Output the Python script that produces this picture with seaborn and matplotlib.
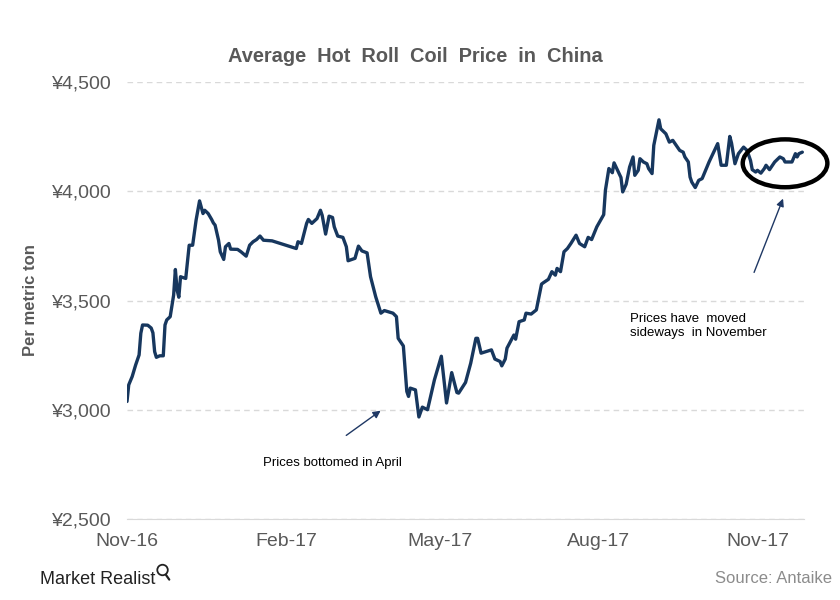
import matplotlib
matplotlib.use("Agg")
import matplotlib.pyplot as plt
import matplotlib.dates as mdates
from matplotlib.patches import Ellipse
from matplotlib.lines import Line2D
import numpy as np
import pandas as pd
import seaborn as sb

dates = [
    "2016-11-01", "2016-11-02", "2016-11-04", "2016-11-06", "2016-11-08", "2016-11-09",
    "2016-11-10", "2016-11-13", "2016-11-15", "2016-11-16", "2016-11-17", "2016-11-18",
    "2016-11-20", "2016-11-22", "2016-11-23", "2016-11-24", "2016-11-26", "2016-11-28",
    "2016-11-29", "2016-11-30", "2016-12-01", "2016-12-02", "2016-12-03", "2016-12-05",
    "2016-12-07", "2016-12-09", "2016-12-11", "2016-12-13", "2016-12-15", "2016-12-16",
    "2016-12-18", "2016-12-20", "2016-12-21", "2016-12-22", "2016-12-24", "2016-12-25",
    "2016-12-27", "2016-12-28", "2016-12-30", "2016-12-31", "2017-01-04", "2017-01-06",
    "2017-01-09", "2017-01-11", "2017-01-13", "2017-01-15", "2017-01-17", "2017-01-19",
    "2017-01-24", "2017-02-01", "2017-02-07", "2017-02-08", "2017-02-10", "2017-02-13",
    "2017-02-14", "2017-02-16", "2017-02-19", "2017-02-21", "2017-02-22", "2017-02-24",
    "2017-02-26", "2017-02-28", "2017-03-01", "2017-03-03", "2017-03-06", "2017-03-08",
    "2017-03-09", "2017-03-13", "2017-03-15", "2017-03-17", "2017-03-20", "2017-03-22",
    "2017-03-25", "2017-03-28", "2017-03-30", "2017-04-04", "2017-04-06", "2017-04-07",
    "2017-04-10", "2017-04-12", "2017-04-13", "2017-04-14", "2017-04-17", "2017-04-19",
    "2017-04-21", "2017-04-24", "2017-04-26", "2017-04-28", "2017-05-02", "2017-05-05",
    "2017-05-08", "2017-05-11", "2017-05-12", "2017-05-16", "2017-05-19", "2017-05-22",
    "2017-05-23", "2017-05-25", "2017-05-31", "2017-06-02", "2017-06-05", "2017-06-06",
    "2017-06-08", "2017-06-09", "2017-06-13", "2017-06-14", "2017-06-16", "2017-06-19",
    "2017-06-20", "2017-06-23", "2017-06-26", "2017-06-29", "2017-06-30", "2017-07-03",
    "2017-07-05", "2017-07-07", "2017-07-08", "2017-07-10", "2017-07-12", "2017-07-14",
    "2017-07-16", "2017-07-19", "2017-07-21", "2017-07-24", "2017-07-26", "2017-07-28",
    "2017-07-31", "2017-08-04", "2017-08-05", "2017-08-07", "2017-08-09", "2017-08-10",
    "2017-08-12", "2017-08-14", "2017-08-15", "2017-08-17", "2017-08-19", "2017-08-21",
    "2017-08-22", "2017-08-24", "2017-08-25", "2017-08-27", "2017-08-29", "2017-08-30",
    "2017-09-01", "2017-09-02", "2017-09-05", "2017-09-06", "2017-09-08", "2017-09-09",
    "2017-09-11", "2017-09-13", "2017-09-15", "2017-09-17", "2017-09-19", "2017-09-20",
    "2017-09-22", "2017-09-23", "2017-09-24", "2017-09-26", "2017-09-28", "2017-09-30",
    "2017-10-04", "2017-10-09", "2017-10-11", "2017-10-14", "2017-10-16", "2017-10-17",
    "2017-10-19", "2017-10-21", "2017-10-24", "2017-10-26", "2017-10-28", "2017-10-29",
    "2017-10-31", "2017-11-01", "2017-11-03", "2017-11-05", "2017-11-06", "2017-11-08",
    "2017-11-11", "2017-11-14", "2017-11-16", "2017-11-17", "2017-11-21", "2017-11-23",
    "2017-11-24", "2017-11-25", "2017-11-27",
]

prices = [
    3038, 3114, 3152, 3205, 3251, 3350,
    3388, 3387, 3374, 3352, 3266, 3240,
    3247, 3247, 3388, 3411, 3426, 3525,
    3642, 3548, 3515, 3609, 3606, 3601,
    3753, 3753, 3868, 3956, 3898, 3913,
    3898, 3871, 3855, 3845, 3776, 3723,
    3688, 3746, 3761, 3735, 3734, 3723,
    3703, 3753, 3769, 3779, 3795, 3776,
    3773, 3753, 3738, 3769, 3761, 3853,
    3871, 3853, 3875, 3913, 3890, 3804,
    3886, 3880, 3837, 3795, 3789, 3746,
    3682, 3693, 3749, 3727, 3718, 3609,
    3517, 3442, 3454, 3442, 3426, 3327,
    3292, 3084, 3061, 3099, 3091, 2967,
    3012, 3000, 3068, 3137, 3245, 3031,
    3170, 3079, 3076, 3125, 3213, 3327,
    3327, 3259, 3274, 3232, 3221, 3201,
    3232, 3282, 3342, 3323, 3403, 3411,
    3442, 3438, 3457, 3575, 3581, 3597,
    3632, 3616, 3647, 3632, 3723, 3738,
    3761, 3799, 3761, 3746, 3789, 3779,
    3837, 3893, 4005, 4104, 4085, 4130,
    4096, 4063, 3997, 4032, 4111, 4157,
    4073, 4096, 4149, 4134, 4126, 4104,
    4081, 4210, 4327, 4286, 4271, 4263,
    4225, 4233, 4210, 4187, 4179, 4157,
    4134, 4065, 4042, 4017, 4050, 4058,
    4134, 4218, 4119, 4119, 4251, 4221,
    4126, 4172, 4202, 4187, 4141, 4099,
    4088, 4096, 4083, 4104, 4119, 4099,
    4134, 4157, 4149, 4134, 4134, 4172,
    4157, 4172, 4179,
]

yticks = [2500, 3000, 3500, 4000, 4500]

df = pd.DataFrame({"date": pd.to_datetime(dates), "price": prices})

sb.set_style("white")
plt.rcParams["font.family"] = ["Liberation Sans", "DejaVu Sans"]

grey = "#595959"
navy = "#17375E"

fig = plt.figure(figsize=(8.4, 6), dpi=100)
ax = fig.add_axes([0.1512, 0.135, 0.806, 0.7283])

sb.lineplot(x="date", y="price", data=df, color=navy, linewidth=2.4, ax=ax)

ax.set_xlim(pd.Timestamp("2016-11-01"), pd.Timestamp("2017-11-28"))
ax.set_ylim(2500, 4500)
ax.set_yticks(yticks)
ax.set_yticklabels(["¥{:,}".format(v) for v in yticks], fontsize=14, color=grey)
ax.yaxis.grid(True, linestyle=(0, (4, 3)), color="#d9d9d9", linewidth=1)
ax.set_axisbelow(True)

ax.xaxis.set_major_locator(mdates.MonthLocator(bymonth=[2, 5, 8, 11]))
ax.xaxis.set_major_formatter(mdates.DateFormatter("%b-%y"))
ax.tick_params(axis="x", labelsize=14, colors=grey, length=4, color="#d9d9d9", pad=6)
ax.tick_params(axis="y", length=0, pad=11)

for s in ["top", "right", "left"]:
    ax.spines[s].set_visible(False)
ax.spines["bottom"].set_color("#d9d9d9")

ax.set_xlabel("")
ax.set_ylabel("Per metric ton", fontsize=12, fontweight="bold", color=grey, labelpad=10)

fig.text(0.495, 0.906, "Average  Hot  Roll  Coil  Price  in  China", ha="center", va="center",
         fontsize=14.4, fontweight="bold", color=grey)

# circle around November
ell = Ellipse((mdates.date2num(pd.Timestamp("2017-11-17")), 4128), width=49, height=219,
              fill=False, edgecolor="black", linewidth=3.2, zorder=5, clip_on=False)
ax.add_patch(ell)

arrow = dict(arrowstyle="-|>", color="#1F3864", lw=1, mutation_scale=11)
ax.annotate("", xy=(0.378, 0.2517), xytext=(0.3205, 0.1876), xycoords="axes fraction",
            textcoords="axes fraction", arrowprops=arrow)
ax.text(0.3028, 0.128, "Prices bottomed in April", transform=ax.transAxes,
        ha="center", va="center", fontsize=9.5, color="black")
ax.annotate("", xy=(0.9705, 0.7391), xytext=(0.9247, 0.5584), xycoords="axes fraction",
            textcoords="axes fraction", arrowprops=arrow)
ax.text(0.743, 0.442, "Prices have  moved\nsideways  in November", transform=ax.transAxes,
        ha="left", va="center", fontsize=9.5, color="black", linespacing=1.25)

# logo
fig.text(0.048, 0.026, "Market Realist", fontsize=13, color="#222222")
fig.add_artist(Ellipse((0.1935, 0.05), 0.0125, 0.0175, transform=fig.transFigure, fill=False,
                       edgecolor="#222222", linewidth=1.3))
fig.add_artist(Line2D([0.1975, 0.2015], [0.042, 0.034], transform=fig.transFigure,
                      color="#222222", linewidth=1.6))
fig.text(0.99, 0.028, "Source: Antaike", ha="right", fontsize=12, color="#8c8c8c")

plt.savefig("out.png", dpi=100)
